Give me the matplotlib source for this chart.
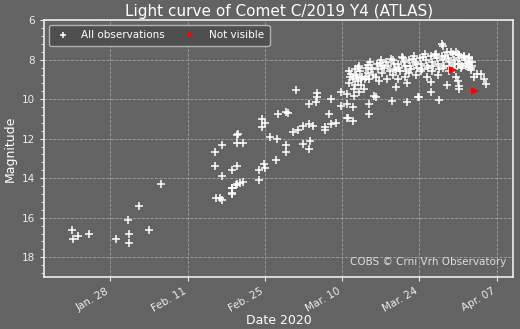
import numpy as np
import matplotlib
matplotlib.use("Agg")
import matplotlib.pyplot as plt
import matplotlib.dates as mdates
from matplotlib.ticker import AutoMinorLocator
from datetime import datetime as dt
from datetime import timedelta as td

# observations: day of 2020 (Jan 1 = 0) and magnitude
obs_day = [
    20.1, 20.2, 21.1, 23.1, 28.1, 30.1, 30.3, 30.3, 32.2, 34.0, 36.2,
    45.9, 47.3, 50.0, 50.0, 46.0, 47.3, 49.1, 50.0, 46.1, 46.9, 47.2, 49.0, 49.1, 50.0,
    54.4, 55.0, 54.5, 50.1, 56.0, 57.1, 58.8, 58.9, 54.0, 54.9, 55.1, 57.0, 54.0,
    51.1, 50.5, 49.8, 49.1, 49.0, 51.0,
    60.7, 64.5, 64.5, 63.0, 64.3, 67.0, 68.8, 69.8, 68.8, 69.8, 57.4, 58.9, 59.2, 66.7,
    60.1, 61.0, 61.9, 63.0, 63.8, 65.8, 65.8, 66.9, 67.8, 69.8, 61.9, 63.1, 63.0,
    70.9, 70.0, 70.9, 73.9, 73.9, 74.8, 75.1, 78.1, 71.2, 72.1, 73.0, 71.2, 70.9,
    71.6, 71.8, 72.4, 73.3, 73.9,
    70.3, 70.4, 70.2, 71.3, 71.5, 71.4, 72.0, 72.3, 72.6, 72.5, 73.4, 73.6, 73.2,
    74.1, 74.4, 74.2, 74.6, 75.3, 75.5, 75.2, 75.6, 76.1, 76.3, 76.5, 76.2,
    77.0, 77.3, 77.6, 77.2, 78.2, 78.4, 78.6, 78.3, 79.1, 79.3, 79.5, 79.2,
    80.0, 80.2, 80.4, 80.6, 80.3, 81.1, 81.3, 81.5, 81.2, 82.0, 82.2, 82.4, 82.6, 82.3,
    83.1, 83.3, 83.5, 83.2, 84.0, 84.2, 84.4, 84.6, 84.3, 85.1, 85.3, 85.5, 85.2,
    86.0, 86.2, 86.4, 86.6, 86.3, 87.1, 87.3, 87.5, 87.2, 88.0, 88.2, 88.4, 88.6, 88.3,
    89.1, 89.3, 89.5, 89.2, 90.0, 90.2, 90.4, 90.6, 91.1, 91.3, 91.5, 92.0, 92.2, 92.4,
    78.7, 80.8, 85.1, 83.0, 80.8, 86.6, 85.1, 88.0, 78.7, 82.8,
    87.0, 87.2,
    88.7, 89.6, 90.2, 91.1, 92.0, 92.6, 89.9, 90.8, 91.7, 92.6, 93.5, 94.1, 92.9,
    89.6, 89.9, 90.2, 90.2, 94.7, 95.0, 92.0, 92.3,
    70.6, 71.9, 73.7, 75.8, 77.8, 79.8, 81.8, 83.7, 85.8, 87.7,
]
obs_mag = [
    16.6, 17.1, 16.9, 16.8, 17.1, 16.1, 16.8, 17.3, 15.4, 16.6, 14.3,
    12.7, 12.3, 11.8, 12.2, 13.4, 13.9, 13.6, 13.4, 15.0, 15.0, 15.1, 14.8, 14.5, 14.3,
    11.0, 11.2, 11.4, 11.75, 11.9, 12.0, 12.3, 12.65, 13.6, 13.3, 13.5, 13.1, 14.1,
    14.2, 14.25, 14.35, 14.5, 14.75, 12.2,
    9.54, 9.71, 9.88, 10.25, 10.17, 10.0, 9.66, 9.74, 10.34, 10.25, 10.73, 10.63, 10.68, 10.73,
    11.65, 11.56, 11.36, 11.24, 11.36, 11.41, 11.58, 11.27, 11.19, 10.96, 12.26, 12.12, 12.5,
    10.42, 10.93, 11.1, 10.25, 10.76, 9.83, 9.91, 10.08, 9.83, 9.66, 9.49, 9.49, 8.97,
    8.89, 9.06, 8.97, 8.89, 8.97,
    8.6, 8.9, 9.2, 8.5, 8.8, 9.3, 8.3, 8.6, 8.9, 9.3, 8.4, 8.7, 9.0,
    8.1, 8.4, 8.5, 8.8, 8.2, 8.5, 8.9, 9.1, 8.0, 8.3, 8.4, 8.7,
    8.1, 8.3, 8.6, 9.0, 8.0, 8.2, 8.5, 8.8, 8.2, 8.4, 8.6, 9.0,
    7.9, 8.1, 8.3, 8.6, 8.9, 8.0, 8.3, 8.5, 8.7, 7.8, 8.1, 8.2, 8.4, 8.8,
    7.9, 8.2, 8.5, 8.6, 7.7, 8.0, 8.3, 8.4, 8.9, 7.8, 8.1, 8.3, 8.6,
    7.7, 7.9, 8.2, 8.5, 8.8, 7.8, 8.0, 8.3, 8.4, 7.6, 7.9, 8.1, 8.3, 8.6,
    7.7, 8.0, 8.2, 8.5, 7.7, 7.9, 8.2, 8.4, 7.8, 8.0, 8.3, 7.9, 8.1, 8.4,
    9.4, 9.2, 9.15, 9.91, 10.17, 10.05, 9.66, 9.3, 8.55, 9.88,
    7.19, 7.33,
    7.62, 7.62, 7.79, 7.87, 7.87, 8.12, 8.21, 8.3, 8.21, 8.3, 8.72, 8.72, 8.89,
    8.89, 9.06, 9.32, 9.49, 8.97, 9.23, 8.38, 8.55,
    8.75, 8.45, 8.25, 8.15, 7.95, 7.85, 7.95, 7.85, 7.75, 7.8,
]
# not visible
nv_day = [89.0, 93.1]
nv_mag = [8.55, 9.57]

xtick_days = [27, 41, 55, 69, 83, 97]

t0 = dt(2020, 1, 1)
def todate(days):
    return [t0 + td(days=d) for d in days]

bg = '#636363'
fg = '#e8eeee'

fig = plt.figure(figsize=(5.2, 3.29), dpi=100, facecolor=bg)
ax = fig.add_axes([0.085, 0.158, 0.902, 0.781], facecolor=bg)

ax.plot(todate(obs_day), obs_mag, '+', color='white', ms=5.5, mew=1.1, label='All observations')
ax.plot(todate(nv_day), nv_mag, '>', color='red', ms=6, mew=0, label='Not visible')

ax.set_ylim(19, 6)
ax.set_xlim(t0 + td(days=15), t0 + td(days=100))
ax.set_yticks([6, 8, 10, 12, 14, 16, 18])
ax.yaxis.set_minor_locator(AutoMinorLocator(5))
ax.set_xticks(todate(xtick_days))
ax.xaxis.set_major_formatter(mdates.DateFormatter('%b. %d'))
for lab in ax.get_xticklabels():
    lab.set_rotation(30)
    lab.set_ha('right')

ax.grid(True, color='#b0b0b0', ls='--', lw=0.6, alpha=0.8)
for s in ax.spines.values():
    s.set_color(fg)
    s.set_linewidth(1.2)
ax.tick_params(colors=fg, labelsize=7.5, length=3)
ax.tick_params(which='minor', colors=fg, length=2)

ax.set_title('Light curve of Comet C/2019 Y4 (ATLAS)', color='white', fontsize=11, pad=3)
ax.set_xlabel('Date 2020', color='white', fontsize=9, labelpad=0)
ax.set_ylabel('Magnitude', color='white', fontsize=9, labelpad=4)

ax.text(0.985, 0.04, 'COBS \u00a9 Crni Vrh Observatory', transform=ax.transAxes,
        ha='right', va='bottom', color='#dddddd', fontsize=7.5)

leg = ax.legend(loc='upper left', ncol=2, fontsize=7.5, facecolor='#4d4d4d',
                edgecolor='#bbbbbb', framealpha=0.9, borderpad=0.5, columnspacing=1.8,
                handletextpad=0.9, handlelength=1.6, markerscale=0.8)
for t in leg.get_texts():
    t.set_color('white')

fig.savefig('out.png', dpi=100, facecolor=bg)
